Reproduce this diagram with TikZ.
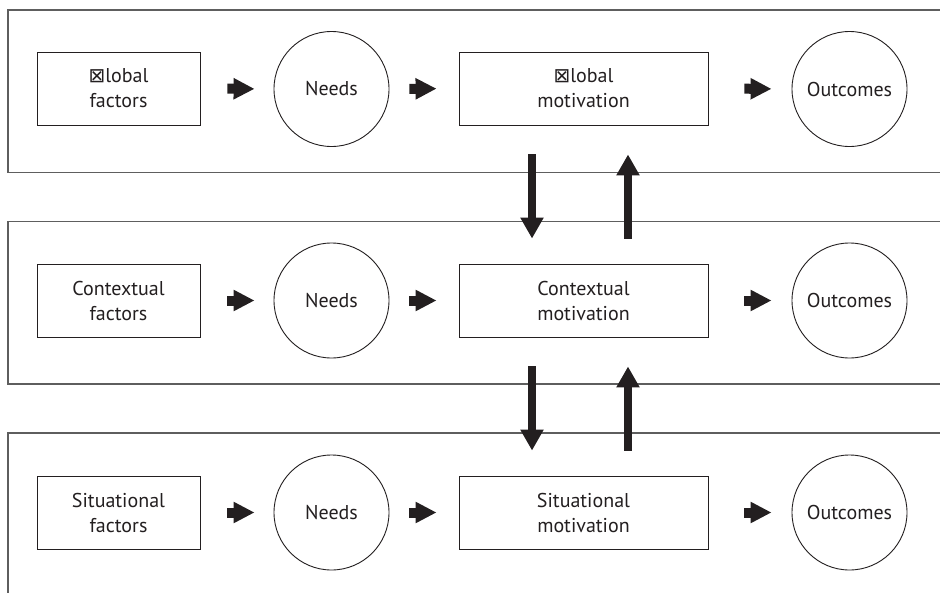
\documentclass[tikz,border=0pt]{standalone}
\usepackage{fontspec}
\setmainfont{PT Sans}
\newfontfamily\symfont{DejaVu Sans}
\usetikzlibrary{arrows.meta,positioning}
\definecolor{ink}{HTML}{231F20}
\definecolor{frame}{HTML}{5E5E5E}
\newcommand{\miss}{{\symfont\fontsize{20}{20}\selectfont ⊠}}
\begin{document}
\begin{tikzpicture}[x=1pt,y=-1pt,
  every node/.style={text=ink,font=\fontsize{20}{25}\selectfont,align=center,inner sep=0pt},
  panel/.style={draw=frame,line width=1.2pt},
  sqbox/.style={draw=ink,line width=0.9pt,rectangle,minimum height=73pt},
  rnd/.style={draw=ink,line width=0.9pt,circle,minimum size=115pt},
  flow/.style={ink,line width=10pt,-{Triangle[length=21pt,width=20pt]}},
  link/.style={ink,line width=8pt,-{Triangle[length=21pt,width=22pt]}}]
\clip (0,0) rectangle (940,592);
\fill[white] (0,0) rectangle (940,592);

% three level panels, open past the right edge
\draw[panel] (8,10) rectangle (960,172.7);
\draw[panel] (8,221.7) rectangle (960,384);
\draw[panel] (8,433) rectangle (960,620);

% global level
\node[sqbox,minimum width=163pt] (f1) at (118.5,88.5) {\miss lobal\\factors};
\node[rnd] (n1) at (331.5,89) {Needs};
\node[sqbox,minimum width=249pt] (m1) at (583.5,88.5) {\miss lobal\\motivation};
\node[rnd] (o1) at (849.5,89) {Outcomes};

% contextual level
\node[sqbox,minimum width=163pt] (f2) at (118.5,300.5) {Contextual\\factors};
\node[rnd] (n2) at (331.5,300.5) {Needs};
\node[sqbox,minimum width=249pt] (m2) at (583.5,300.5) {Contextual\\motivation};
\node[rnd] (o2) at (849.5,300.5) {Outcomes};

% situational level
\node[sqbox,minimum width=163pt] (f3) at (118.5,512.5) {Situational\\factors};
\node[rnd] (n3) at (331.5,512.5) {Needs};
\node[sqbox,minimum width=249pt] (m3) at (583.5,512.5) {Situational\\motivation};
\node[rnd] (o3) at (849.5,512.5) {Outcomes};

% flow within each level
\foreach \r in {1,2,3}{
  \draw[flow,shorten <=27pt,shorten >=19pt] (f\r.east) -- (n\r.west);
  \draw[flow,shorten <=20pt,shorten >=22pt] (n\r.east) -- (m\r.west);
  \draw[flow,shorten <=36pt,shorten >=20pt] (m\r.east) -- (o\r.west);
}

% links between levels (shifts are in page direction: up is positive)
\draw[link] ([xshift=-51.5pt,yshift=-29pt]m1.south) -- ([xshift=-51.5pt,yshift=25pt]m2.north);
\draw[link] ([xshift=44.5pt,yshift=25pt]m2.north) -- ([xshift=44.5pt,yshift=-29pt]m1.south);
\draw[link] ([xshift=-51.5pt,yshift=-29pt]m2.south) -- ([xshift=-51.5pt,yshift=25pt]m3.north);
\draw[link] ([xshift=44.5pt,yshift=25pt]m3.north) -- ([xshift=44.5pt,yshift=-29pt]m2.south);
\end{tikzpicture}
\end{document}
